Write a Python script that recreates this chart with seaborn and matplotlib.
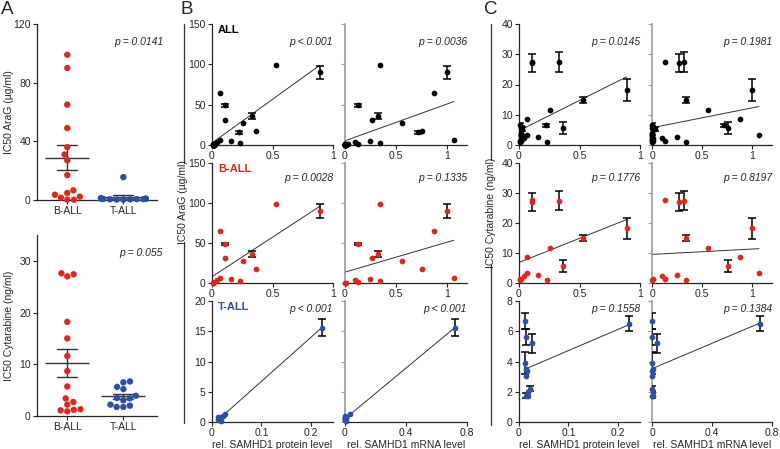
import numpy as np
import pandas as pd
import matplotlib
matplotlib.use('Agg')
import matplotlib.pyplot as plt
import seaborn as sns
from matplotlib.lines import Line2D

# ---- data ----
# B-ALL samples (same order in every list)
ball_protein = [0.005, 0.01, 0.02, 0.04, 0.065, 0.07, 0.11, 0.11, 0.16, 0.23, 0.26, 0.33, 0.36, 0.53, 0.89]
ball_mrna = [0.01, 0.0, 0.13, 0.10, 0.88, 1.07, 0.13, 0.27, 0.25, 0.34, 0.56, 0.32, 0.76, 0.34, 1.0]
ball_arag = [0.2, 0.2, 1.6, 3.6, 65, 6.6, 49, 31, 4.8, 2.3, 27, 36, 17, 99, 90]
ball_arag_err = [0, 0, 0, 0, 0, 0, 1.5, 0, 0, 0, 0, 3.5, 0, 0, 8.5]
ball_cyt = [1.2, 1.1, 1.3, 2.2, 8.7, 3.4, 27.6, 27.0, 2.7, 0.9, 11.6, 27.4, 5.7, 15.0, 18.2]
ball_cyt_err = [0, 0, 0, 0, 0, 0, 0, 3.0, 0, 0, 0, 3.2, 1.9, 1.0, 3.6]

# T-ALL samples
tall_protein = [0.0115, 0.015, 0.026, 0.013, 0.015, 0.016, 0.015, 0.022, 0.018, 0.015, 0.018, 0.222]
tall_mrna = [0.0, 0.002, 0.033, 0.003, 0.004, 0.002, 0.001, 0.003, 0.005, 0.002, 0.004, 0.72]
tall_arag = [0.9, 0.6, 1.3, 0.5, 0.7, 0.3, 0.4, 1.0, 0.2, 0.6, 0.8, 15.6]
tall_arag_err = [0, 0, 0, 0, 0, 0, 0, 0, 0, 0, 0, 1.35]
tall_cyt = [6.68, 5.63, 5.2, 3.9, 3.5, 3.4, 3.05, 2.2, 2.0, 1.75, 1.75, 6.5]
tall_cyt_err = [0.55, 0.55, 0.65, 0.7, 0, 0, 0, 0.15, 0, 0.15, 0, 0.5]

groups = ['B-ALL', 'T-ALL']
p_A = ['p = 0.0141', 'p = 0.055']
p_B = [['p < 0.001', 'p = 0.0036'], ['p = 0.0028', 'p = 0.1335'], ['p < 0.001', 'p < 0.001']]
p_C = [['p = 0.0145', 'p = 0.1981'], ['p = 0.1776', 'p = 0.8197'], ['p = 0.1558', 'p = 0.1384']]

RED = '#E3261C'
BLUE = '#2E4FA6'

sns.set_theme(style='ticks')
plt.rcParams['font.family'] = ['Liberation Sans', 'DejaVu Sans']
plt.rcParams.update({
    'axes.linewidth': 0.9,
    'xtick.major.size': 3, 'ytick.major.size': 3,
    'xtick.major.width': 0.8, 'ytick.major.width': 0.8,
    'xtick.labelsize': 7.5, 'ytick.labelsize': 7.5,
    'xtick.major.pad': 1.5, 'ytick.major.pad': 1.5,
    'axes.labelsize': 7.5,
})

W, H = 780, 449
fig = plt.figure(figsize=(7.8, 4.49), dpi=100)


def box(l, t, r, b):
    return fig.add_axes([l / W, 1 - b / H, (r - l) / W, (b - t) / H])


# ---------------- panel A ----------------
dfA = pd.DataFrame({
    'group': ['B-ALL'] * len(ball_arag) + ['T-ALL'] * len(tall_arag),
    'arag': ball_arag + tall_arag,
    'cyt': ball_cyt + tall_cyt,
})
a_specs = [
    (box(37, 24, 157, 200), 'arag', 'IC50 AraG (µg/ml)', (0, 120), [0, 40, 80, 120], p_A[0]),
    (box(37, 235, 157, 416), 'cyt', 'IC50 Cytarabine (ng/ml)', (0, 35), [0, 10, 20, 30], p_A[1]),
]
for ax, col, lab, ylim, yt, ptxt in a_specs:
    sns.swarmplot(data=dfA, x='group', y=col, hue='group', order=groups,
                  palette={'B-ALL': RED, 'T-ALL': BLUE}, size=4.6, ax=ax,
                  legend=False, warn_thresh=1, clip_on=False)
    sns.pointplot(data=dfA, x='group', y=col, order=groups, errorbar='se',
                  capsize=0.36, linestyle='none', marker='_', markersize=31,
                  markeredgewidth=1, color='#333333',
                  err_kws={'linewidth': 1}, ax=ax)
    ax.set_xlim(-0.54, 1.6)
    ax.set_ylim(*ylim)
    ax.set_yticks(yt)
    ax.set_xlabel('')
    ax.set_ylabel(lab)
    ax.yaxis.set_label_coords(-0.19, 0.5)
    sns.despine(ax=ax)
    ax.text(1.05, 0.9, ptxt, transform=ax.transAxes, ha='right', va='center',
            fontsize=7.5, style='italic')

# ---------------- panels B and C ----------------
all_protein = ball_protein + tall_protein
all_mrna = ball_mrna + tall_mrna
all_arag = ball_arag + tall_arag
all_arag_err = ball_arag_err + tall_arag_err
all_cyt = ball_cyt + tall_cyt
all_cyt_err = ball_cyt_err + tall_cyt_err

rows_top = [24, 163, 301]
rows_bot = [145, 283, 422]
rows_B = [
    ('ALL', 'black', all_protein, all_mrna, all_arag, all_arag_err, (0, 150), [0, 50, 100, 150]),
    ('B-ALL', RED, ball_protein, ball_mrna, ball_arag, ball_arag_err, (0, 150), [0, 50, 100, 150]),
    ('T-ALL', BLUE, tall_protein, tall_mrna, tall_arag, tall_arag_err, (0, 20), [0, 5, 10, 15, 20]),
]
rows_C = [
    ('ALL', 'black', all_protein, all_mrna, all_cyt, all_cyt_err, (0, 40), [0, 10, 20, 30, 40]),
    ('B-ALL', RED, ball_protein, ball_mrna, ball_cyt, ball_cyt_err, (0, 40), [0, 10, 20, 30, 40]),
    ('T-ALL', BLUE, tall_protein, tall_mrna, tall_cyt, tall_cyt_err, (0, 8), [0, 2, 4, 6, 8]),
]
p_y = [0.85, 0.875, 0.93]


def draw_cell(ax, x, y, yerr, color):
    x = np.asarray(x); y = np.asarray(y); yerr = np.asarray(yerr)
    sns.regplot(x=x, y=y, scatter=False, ci=None, truncate=True, ax=ax,
                line_kws={'color': '#333333', 'linewidth': 0.7})
    m = yerr > 0
    ax.errorbar(x[m], y[m], yerr=yerr[m], fmt='none', ecolor='black',
                elinewidth=1.1, capsize=2.6, capthick=1.1, zorder=3)
    sns.scatterplot(x=x, y=y, color=color, s=17, linewidth=0, ax=ax,
                    zorder=4, clip_on=False)
    ax.set_xlabel('')
    ax.set_ylabel('')


def draw_panel(rows, ptexts, xl, xr):
    for i, (name, color, xp, xm, yv, ye, ylim, yt) in enumerate(rows):
        t, b = rows_top[i], rows_bot[i]
        axl = box(xl[0], t, xl[1], b)
        axr = box(xr[0], t, xr[1], b)
        draw_cell(axl, xp, yv, ye, color)
        draw_cell(axr, xm, yv, ye, color)
        if i < 2:
            axl.set_xlim(0, 1.0); axl.set_xticks([0, 0.5, 1]); axl.set_xticklabels(['0', '0.5', '1'])
            axr.set_xlim(0, 1.2); axr.set_xticks([0, 0.5, 1]); axr.set_xticklabels(['0', '0.5', '1'])
        else:
            axl.set_xlim(0, 0.245); axl.set_xticks([0, 0.1, 0.2]); axl.set_xticklabels(['0', '0.1', '0.2'])
            axr.set_xlim(0, 0.8); axr.set_xticks([0, 0.4, 0.8]); axr.set_xticklabels(['0', '0.4', '0.8'])
            axl.set_xlabel('rel. SAMHD1 protein level', labelpad=1)
            axr.set_xlabel('rel. SAMHD1 mRNA level', labelpad=1)
        for ax in (axl, axr):
            ax.set_ylim(*ylim)
            ax.set_yticks(yt)
            sns.despine(ax=ax)
        axr.set_yticklabels([])
        axr.spines['left'].set_color('#9a9a9a')
        axr.spines['left'].set_linewidth(1.2)
        axr.tick_params(axis='y', colors='#9a9a9a')
        if rows is rows_B:
            axl.text(0.05, 0.95, name, transform=axl.transAxes, ha='left', va='center',
                     fontsize=8, fontweight='bold', color=color)
        axl.text(1.0, p_y[i], ptexts[i][0], transform=axl.transAxes, ha='right',
                 va='center', fontsize=7.5, style='italic')
        axr.text(1.0, p_y[i], ptexts[i][1], transform=axr.transAxes, ha='right',
                 va='center', fontsize=7.5, style='italic')


draw_panel(rows_B, p_B, (212, 333), (345, 467))
draw_panel(rows_C, p_C, (519, 640), (652, 772))


# shared y labels with a bracket line
def side_label(x, top, gap_top, gap_bot, bot, text):
    for y0, y1 in ((top, gap_top), (gap_bot, bot)):
        fig.add_artist(Line2D([x / W, x / W], [1 - y0 / H, 1 - y1 / H],
                              color='#333333', linewidth=0.9))
    fig.text(x / W, 1 - (gap_top + gap_bot) / 2 / H, text, rotation=90,
             ha='center', va='center', fontsize=7.5)


side_label(183.5, 24, 163, 242, 423, 'IC50 AraG (µg/ml)')
side_label(491, 24, 160, 265, 425, 'IC50 Cytarabine (ng/ml)')

# panel letters
for x, letter in ((1, 'A'), (181, 'B'), (484, 'C')):
    fig.text(x / W, 1 - 1 / H, letter, ha='left', va='top', fontsize=13.5)

fig.savefig('out.png', dpi=100)
